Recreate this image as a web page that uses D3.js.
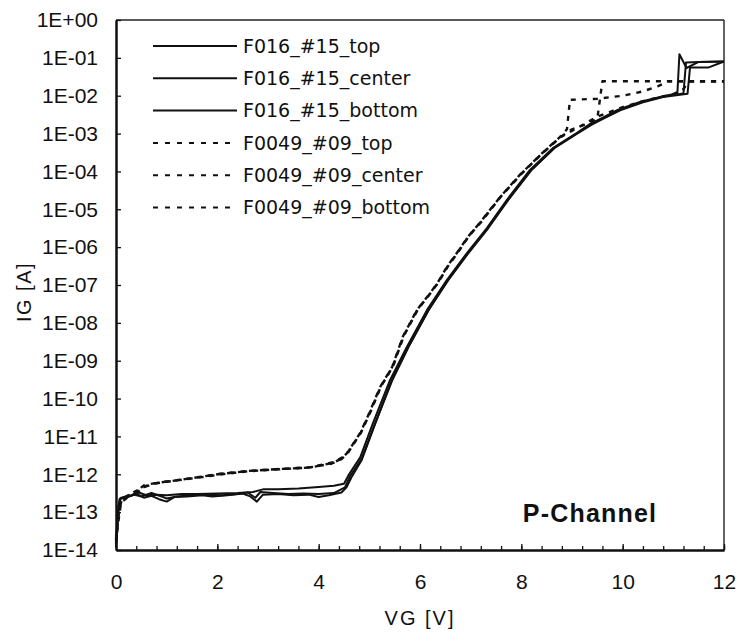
<!DOCTYPE html>
<html>
<head>
<meta charset="utf-8">
<script src="https://cdn.jsdelivr.net/npm/d3@7"></script>
<style>
  html, body { margin: 0; padding: 0; background: #fff; }
  svg { display: block; }
  .tick text { font-family: "Liberation Sans", Arial, sans-serif; font-size: 21px; fill: #111; }
</style>
</head>
<body>
<svg id="chart" width="739" height="635"></svg>
<script>
// ---------- data ----------
const seriesNames = [
  "F016_#15_top", "F016_#15_center", "F016_#15_bottom",
  "F0049_#09_top", "F0049_#09_center", "F0049_#09_bottom"
];
const seriesDashed = [false, false, false, true, true, true];

// [VG (V), IG (A)]
const s_F016_top = [[0,1.4e-14],[0.03,6e-14],[0.07,2.2e-13],[0.15,2.5e-13],[0.3,2.7e-13],[0.45,3.3e-13],[0.6,2.8e-13],[0.8,2.9e-13],[1.0,2.8e-13],[1.3,3.0e-13],[1.6,3.0e-13],[2.0,3.1e-13],[2.4,3.2e-13],[2.7,3.4e-13],[2.9,4.0e-13],[3.2,4.0e-13],[3.6,4.2e-13],[4.0,4.6e-13],[4.3,5.0e-13],[4.5,5.6e-13],[4.6,1.0e-12],[4.82,2.8e-12],[5.07,2.2e-11],[5.41,3.1e-10],[5.74,2.3e-9],[6.14,2.2e-8],[6.53,1.35e-7],[6.93,7.1e-7],[7.32,3.2e-6],[7.72,1.8e-5],[8.17,1.1e-4],[8.63,4.2e-4],[9.1,1.05e-3],[9.36,1.8e-3],[9.6,2.6e-3],[9.9,4.2e-3],[10.34,6.8e-3],[10.74,9.3e-3],[11.08,1.17e-2],[11.12,1.25e-1],[11.26,5.4e-2],[11.5,7.8e-2],[12,8.0e-2]];
const s_F016_center = [[0,2e-14],[0.04,1.0e-13],[0.08,2.3e-13],[0.2,2.4e-13],[0.35,2.9e-13],[0.5,2.6e-13],[0.7,3.2e-13],[0.9,2.6e-13],[1.0,2.3e-13],[1.2,2.6e-13],[1.5,2.8e-13],[1.8,2.9e-13],[2.1,2.8e-13],[2.4,3.0e-13],[2.6,3.3e-13],[2.75,2.4e-13],[2.85,3.4e-13],[3.1,3.2e-13],[3.4,3.0e-13],[3.7,3.1e-13],[4.0,3.0e-13],[4.3,3.2e-13],[4.52,4.5e-13],[4.62,9e-13],[4.85,2.6e-12],[5.1,2.0e-11],[5.45,3.0e-10],[5.78,2.4e-9],[6.18,2.3e-8],[6.56,1.4e-7],[6.95,7.0e-7],[7.35,3.3e-6],[7.75,1.9e-5],[8.2,1.1e-4],[8.66,4.3e-4],[9.12,1.05e-3],[9.4,1.85e-3],[9.65,2.7e-3],[9.95,4.3e-3],[10.4,6.9e-3],[10.8,9.5e-3],[11.2,1.15e-2],[11.25,7.5e-2],[11.5,7.8e-2],[12,8.0e-2]];
const s_F016_bottom = [[0,1.2e-14],[0.05,1.5e-13],[0.1,2.4e-13],[0.25,2.6e-13],[0.4,3.1e-13],[0.55,2.4e-13],[0.7,2.7e-13],[0.85,2.2e-13],[1.0,1.9e-13],[1.15,2.5e-13],[1.4,2.6e-13],[1.7,2.8e-13],[1.9,2.6e-13],[2.2,2.8e-13],[2.5,3.1e-13],[2.65,2.6e-13],[2.78,1.9e-13],[2.9,2.9e-13],[3.2,3.0e-13],[3.5,2.8e-13],[3.8,2.9e-13],[4.0,2.5e-13],[4.2,2.8e-13],[4.45,3.3e-13],[4.55,4.5e-13],[4.65,8.5e-13],[4.85,2.4e-12],[5.1,1.9e-11],[5.43,2.8e-10],[5.76,2.2e-9],[6.16,2.1e-8],[6.55,1.3e-7],[6.95,6.8e-7],[7.34,3.1e-6],[7.74,1.75e-5],[8.19,1.05e-4],[8.65,4.1e-4],[9.1,1.0e-3],[9.4,1.75e-3],[9.65,2.6e-3],[9.95,4.1e-3],[10.4,6.7e-3],[10.8,9.2e-3],[11.28,1.12e-2],[11.33,5.6e-2],[11.7,5.6e-2],[12,8.0e-2]];
const s_F0049_top = [[0,1.5e-14],[0.05,6e-14],[0.1,1.8e-13],[0.2,2.3e-13],[0.34,2.9e-13],[0.5,4.5e-13],[0.57,5.3e-13],[0.8,5.9e-13],[1.26,7.1e-13],[1.66,8.5e-13],[2.05,1.02e-12],[2.64,1.23e-12],[3.24,1.38e-12],[3.83,1.5e-12],[4.28,2.0e-12],[4.45,2.6e-12],[4.56,3.6e-12],[4.82,1.23e-11],[5.01,4.5e-11],[5.21,2.0e-10],[5.45,6.8e-10],[5.66,4.3e-9],[5.94,2.2e-8],[6.14,4.8e-8],[6.34,1.1e-7],[6.53,3.0e-7],[6.73,7.1e-7],[6.95,1.9e-6],[7.18,4.4e-6],[7.58,2.1e-5],[7.97,8.1e-5],[8.37,2.7e-4],[8.76,8.1e-4],[8.9,1.3e-3],[8.96,7.8e-3],[9.5,8.3e-3],[10.0,1.0e-2],[10.4,1.3e-2],[10.7,1.8e-2],[10.9,2.4e-2],[12,2.4e-2]];
const s_F0049_center = [[0,2e-14],[0.06,1.2e-13],[0.12,2.2e-13],[0.25,2.8e-13],[0.4,3.2e-13],[0.55,4.6e-13],[0.8,5.8e-13],[1.2,6.9e-13],[1.7,8.4e-13],[2.1,1.0e-12],[2.6,1.2e-12],[3.2,1.35e-12],[3.8,1.5e-12],[4.25,1.9e-12],[4.45,2.5e-12],[4.58,3.7e-12],[4.84,1.3e-11],[5.03,4.7e-11],[5.23,2.1e-10],[5.47,7.2e-10],[5.68,4.5e-9],[5.96,2.3e-8],[6.16,5.0e-8],[6.36,1.15e-7],[6.55,3.1e-7],[6.75,7.3e-7],[6.97,2.0e-6],[7.2,4.5e-6],[7.6,2.2e-5],[7.99,8.3e-5],[8.39,2.8e-4],[8.78,8.3e-4],[9.0,1.3e-3],[9.3,1.8e-3],[9.5,2.5e-3],[9.6,2.4e-2],[12,2.4e-2]];
const s_F0049_bottom = [[0,1.8e-14],[0.05,8e-14],[0.1,2.0e-13],[0.2,2.6e-13],[0.35,3.4e-13],[0.5,4.2e-13],[0.65,5.4e-13],[0.9,6.2e-13],[1.3,7.3e-13],[1.7,8.7e-13],[2.1,1.05e-12],[2.7,1.25e-12],[3.3,1.4e-12],[3.85,1.55e-12],[4.3,2.1e-12],[4.47,2.8e-12],[4.58,3.9e-12],[4.83,1.25e-11],[5.02,4.6e-11],[5.22,2.0e-10],[5.46,7.0e-10],[5.67,4.4e-9],[5.95,2.25e-8],[6.15,4.9e-8],[6.35,1.12e-7],[6.54,3.05e-7],[6.74,7.2e-7],[6.96,1.95e-6],[7.19,4.5e-6],[7.59,2.15e-5],[7.98,8.2e-5],[8.38,2.75e-4],[8.77,8.0e-4],[9.1,1.4e-3],[9.5,2.8e-3],[10.0,5.0e-3],[10.5,7.8e-3],[11.0,1.1e-2],[11.2,1.5e-2],[11.3,2.4e-2],[12,2.4e-2]];
const seriesData = [s_F016_top, s_F016_center, s_F016_bottom, s_F0049_top, s_F0049_center, s_F0049_bottom];

const xMajorTicks = [0, 2, 4, 6, 8, 10, 12];
const yDecades = [1e-14,1e-13,1e-12,1e-11,1e-10,1e-9,1e-8,1e-7,1e-6,1e-5,1e-4,1e-3,1e-2,1e-1,1];
const xLabel = "VG [V]";
const yLabel = "IG [A]";
const annotation = "P-Channel";

// ---------- layout ----------
const L = 116, R = 724, T = 20, B = 550;
const svg = d3.select("#chart");
const x = d3.scaleLinear().domain([0, 12]).range([L, R]);
const y = d3.scaleLog().domain([1e-14, 1]).range([B, T]);

// frame (top/right)
svg.append("line").attr("x1", L).attr("x2", R).attr("y1", T).attr("y2", T)
  .attr("stroke", "#222").attr("stroke-width", 1.4);
svg.append("line").attr("x1", R).attr("x2", R).attr("y1", T).attr("y2", B)
  .attr("stroke", "#222").attr("stroke-width", 1.4);

// x axis: minor ticks every 0.4 V, labels at even integers
const xMinor = d3.range(0, 12.001, 0.4).map(v => +v.toFixed(2));
const gxMinor = svg.append("g").attr("transform", `translate(0,${B})`)
  .call(d3.axisBottom(x).tickValues(xMinor).tickSizeInner(-4).tickSizeOuter(0).tickFormat(""));
const gx = svg.append("g").attr("transform", `translate(0,${B})`)
  .call(d3.axisBottom(x).tickValues(xMajorTicks).tickSizeInner(-6).tickSizeOuter(0).tickPadding(24).tickFormat(d3.format("d")));
[gxMinor, gx].forEach(g => {
  g.selectAll(".domain").attr("stroke", "#111").attr("stroke-width", 2);
  g.selectAll(".tick line").attr("stroke", "#111").attr("stroke-width", 1.3);
});

// y axis: log ticks
const yMinor = y.ticks().filter(v => yDecades.indexOf(v) < 0);
const gyMinor = svg.append("g").attr("transform", `translate(${L},0)`)
  .call(d3.axisLeft(y).tickValues(yMinor).tickSizeInner(-3).tickSizeOuter(0).tickFormat(""));
const fmtE = d => {
  const e = Math.round(Math.log10(d));
  return "1E" + (e >= 0 ? "+" : "-") + String(Math.abs(e)).padStart(2, "0");
};
const gy = svg.append("g").attr("transform", `translate(${L},0)`)
  .call(d3.axisLeft(y).tickValues(yDecades).tickSizeInner(-5).tickSizeOuter(0).tickPadding(18).tickFormat(fmtE));
[gyMinor, gy].forEach(g => {
  g.selectAll(".domain").attr("stroke", "#111").attr("stroke-width", 2);
  g.selectAll(".tick line").attr("stroke", "#111").attr("stroke-width", 1.3);
});

// curves
const line = d3.line().x(d => x(d[0])).y(d => y(d[1]));
seriesData.forEach((data, i) => {
  svg.append("path").datum(data)
    .attr("d", line)
    .attr("fill", "none")
    .attr("stroke", "#111")
    .attr("stroke-width", seriesDashed[i] ? 2.4 : 2)
    .attr("stroke-linejoin", "round")
    .attr("stroke-dasharray", seriesDashed[i] ? "5,6" : null);
});

// legend
const legX1 = 153, legX2 = 237, legY0 = 46, legDy = 32.3;
seriesNames.forEach((name, i) => {
  const yy = legY0 + i * legDy;
  svg.append("line").attr("x1", legX1).attr("x2", legX2).attr("y1", yy).attr("y2", yy)
    .attr("stroke", "#111").attr("stroke-width", seriesDashed[i] ? 2 : 2)
    .attr("stroke-dasharray", seriesDashed[i] ? "5,7" : null);
  svg.append("text").attr("x", legX2 + 6).attr("y", yy).attr("dy", "0.36em")
    .attr("font-family", "DejaVu Sans, sans-serif").attr("font-size", 19).attr("fill", "#111")
    .text(name);
});

// axis titles
svg.append("text").attr("x", (L + R) / 2).attr("y", 618).attr("dy", "0.36em")
  .attr("text-anchor", "middle").attr("font-family", "Liberation Sans, Arial, sans-serif")
  .attr("font-size", 20).attr("letter-spacing", 2).attr("fill", "#111").text(xLabel);
svg.append("text").attr("transform", "translate(24,292) rotate(-90)").attr("dy", "0.36em")
  .attr("text-anchor", "middle").attr("font-family", "Liberation Sans, Arial, sans-serif")
  .attr("font-size", 20).attr("letter-spacing", 1.5).attr("fill", "#111").text(yLabel);

// annotation
svg.append("text").attr("x", 590).attr("y", 513).attr("dy", "0.36em")
  .attr("text-anchor", "middle").attr("font-family", "Liberation Sans, Arial, sans-serif")
  .attr("font-weight", "bold").attr("font-size", 25).attr("letter-spacing", 1.2)
  .attr("fill", "#111").text(annotation);
</script>
</body>
</html>
